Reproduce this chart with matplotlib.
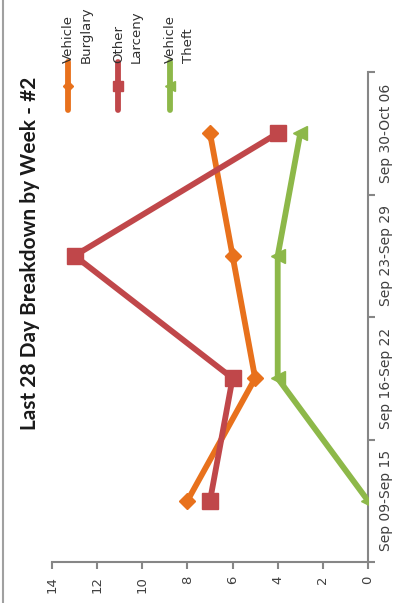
import matplotlib
matplotlib.use("Agg")
import matplotlib.pyplot as plt
from matplotlib.lines import Line2D

# data (chart is drawn rotated 90 degrees, as in the reference)
weeks = ["Sep 09-Sep 15", "Sep 16-Sep 22", "Sep 23-Sep 29", "Sep 30-Oct 06"]
vehicle_burglary = [8, 5, 6, 7]
other_larceny = [7, 6, 13, 4]
vehicle_theft = [0, 4, 4, 3]
value_ticks = [0, 2, 4, 6, 8, 10, 12, 14]

series = [
    ("Vehicle\nBurglary", vehicle_burglary, "#E8711C", "D", 8),
    ("Other\nLarceny", other_larceny, "#C0474A", "s", 11),
    ("Vehicle\nTheft", vehicle_theft, "#8DB849", "<", 10),
]

W, H = 393, 603
fig = plt.figure(figsize=(W / 100, H / 100), dpi=100)
ax = fig.add_axes([52 / W, 1 - 562 / H, (368 - 52) / W, (562 - 72) / H])

pos = list(range(len(weeks)))
for name, vals, color, marker, ms in series:
    ax.plot(vals, pos, color=color, lw=4.2, marker=marker, ms=ms,
            solid_capstyle="butt", zorder=3)

ax.set_xlim(14, 0)
ax.set_ylim(-0.5, len(weeks) - 0.5)

axis_col = "#868686"
for s in ["left", "top"]:
    ax.spines[s].set_visible(False)
for s in ["bottom", "right"]:
    ax.spines[s].set_color(axis_col)
    ax.spines[s].set_linewidth(1.5)

ax.set_xticks(value_ticks)
ax.set_xticklabels([str(v) for v in value_ticks], rotation=90, fontsize=9.5,
                   color="#404040")
ax.tick_params(axis="x", direction="out", length=5, width=1.5, color=axis_col, pad=5)

ax.yaxis.tick_right()
ax.set_yticks([p - 0.5 for p in pos] + [len(weeks) - 0.5])
ax.set_yticklabels([])
ax.tick_params(axis="y", which="major", direction="out", length=5, width=1.5,
               color=axis_col)
ax.set_yticks(pos, minor=True)
ax.set_yticklabels(weeks, minor=True, rotation=90, va="center", fontsize=10,
                   color="#404040")
ax.tick_params(axis="y", which="minor", length=0, pad=8)

# title
fig.text(30 / W, 1 - 253 / H, "Last 28 Day Breakdown by Week - #2", rotation=90,
         ha="center", va="center", fontsize=15, fontweight="bold",
         family="Lato", color="#1a1a1a")

# legend, drawn by hand since it is rotated
leg_x = [68, 118, 170]
for (name, vals, color, marker, ms), x in zip(series, leg_x):
    fig.add_artist(Line2D([x / W, x / W], [1 - 110 / H, 1 - 62 / H],
                          transform=fig.transFigure, color=color, lw=4.2,
                          solid_capstyle="round"))
    fig.add_artist(Line2D([x / W], [1 - 86 / H], transform=fig.transFigure,
                          color=color, marker=marker, ms=ms * 0.7, lw=0))
    fig.text((x - 6) / W, 1 - 63 / H, name, rotation=90, ha="left", va="bottom",
             fontsize=9.5, color="#303030", linespacing=1.45)

# outer border line
fig.add_artist(Line2D([3 / W, 3 / W], [0, 1], transform=fig.transFigure,
                      color="#a0a0a0", lw=1.5))

fig.savefig("out.png", dpi=100)
